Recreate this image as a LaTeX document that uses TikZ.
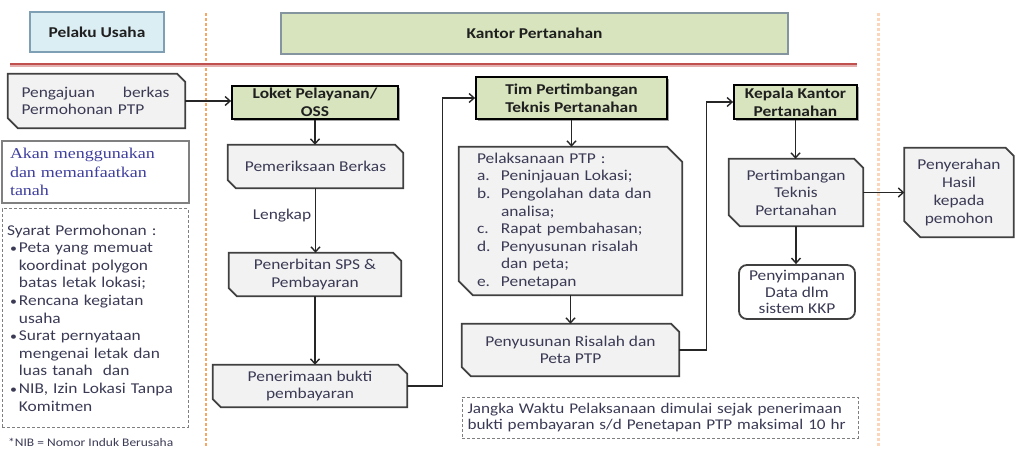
\documentclass[tikz,border=0pt]{standalone}
\usepackage{fontspec}
\setmainfont{Carlito}[FakeStretch=1.16]
\newfontfamily\akanfont{Liberation Serif}[FakeStretch=1.2]
\usetikzlibrary{arrows.meta,backgrounds,shadows}
\definecolor{greenc}{HTML}{D7E4BD}
\definecolor{bluec}{HTML}{DBEEF4}
\definecolor{bluebd}{HTML}{7F9FB5}
\definecolor{kantbd}{HTML}{8495A0}
\definecolor{snipfill}{HTML}{F2F2F2}
\definecolor{snipdraw}{HTML}{404040}
\definecolor{txtc}{HTML}{3A3A55}
\definecolor{akanc}{HTML}{3F3F9F}
\definecolor{redc}{HTML}{C0504D}
\definecolor{orL}{HTML}{F5A865}
\definecolor{orR}{HTML}{FCD6BA}
\definecolor{dashc}{HTML}{7F7F7F}
\newcommand\snipbox[3]{%
  \draw[snipsty] (#1.north west) -- ([xshift=-#2]#1.north east) -- ([yshift=-#2]#1.north east)
    -- (#1.south east) -- ([xshift=#3]#1.south west) -- ([yshift=#3]#1.south west) -- cycle;}
\newcommand\bul{\hspace*{3pt}\makebox[9pt][l]{\raisebox{0.5pt}{\fontsize{12}{12}\selectfont•}}}
\begin{document}
\begin{tikzpicture}[x=1pt,y=-1pt,
  base/.style={font=\fontsize{15}{17.6}\selectfont, text=txtc, align=center, inner sep=0pt},
  head/.style={base, font=\fontsize{15}{18}\selectfont\bfseries, text=black!88},
  greenbox/.style={head, fill=greenc, draw=black, line width=1.8pt,
     drop shadow={shadow xshift=2pt, shadow yshift=-2pt, fill=black!45, opacity=0.8}},
  snipsty/.style={fill=snipfill, draw=snipdraw, line width=1.7pt, line join=miter},
  arr/.style={draw=black!85, line width=1.4pt, -{Straight Barb[length=5pt,width=9pt,line width=1.4pt]}},
  dashbox/.style={draw=dashc, line width=1pt, dash pattern=on 3pt off 2pt}
]
\useasboundingbox (0,0) rectangle (1015,449);

% separators
\draw[orL, line width=2pt, dash pattern=on 3pt off 2pt] (206,13) -- (206,447);
\draw[orR, line width=3pt, dash pattern=on 3pt off 2pt] (878,13) -- (878,447);
\draw[redc!45, line width=2pt] (10,66) -- (857,66);
\draw[redc, line width=2.2pt] (10,64) -- (857,64);

% headers
\node[head, fill=bluec, draw=bluebd, line width=1.2pt, minimum width=134pt, minimum height=40pt] (pelaku) at (97,32) {Pelaku Usaha};
\node[head, fill=greenc, draw=kantbd, line width=1.2pt, minimum width=507pt, minimum height=41pt] (kantor) at (534.5,33.5) {Kantor Pertanahan};

% left column
\node[base, align=left, text width=150pt, inner xsep=13.5pt, minimum height=54pt] (peng) at (96.5,101)
  {\makebox[148pt][s]{Pengajuan\hfill berkas}\\Permohonan PTP};
\node[base, font=\akanfont\fontsize{15}{18.5}\selectfont, text=akanc, align=left, text width=171pt, inner xsep=8pt,
  minimum height=62pt, draw=black!50, line width=1.2pt, fill=white] (akan) at (95.5,172)
  {Akan menggunakan\\dan memanfaatkan\\tanah};
\node[base, dashbox, align=left, text width=176pt, inner xsep=5pt, minimum height=218pt] (syarat) at (95,318)
  {Syarat Permohonan :\\
   \bul Peta yang memuat\\
   \hspace*{12pt}koordinat polygon\\
   \hspace*{12pt}batas letak lokasi;\\
   \bul Rencana kegiatan\\
   \hspace*{12pt}usaha\\
   \bul Surat pernyataan\\
   \hspace*{12pt}mengenai letak dan\\
   \hspace*{12pt}luas tanah\ \ dan\\
   \bul NIB, Izin Lokasi Tanpa\\
   \hspace*{12pt}Komitmen};
\node[base, font=\fontsize{11.6}{12}\selectfont, anchor=west] (nib) at (8,442) {*NIB = Nomor Induk Berusaha};

% column 2
\node[greenbox, minimum width=166pt, minimum height=33pt] (loket) at (315,102.5) {Loket Pelayanan/\\OSS};
\node[base, minimum width=175pt, minimum height=43pt] (pem) at (315.5,166.5) {Pemeriksaan Berkas};
\node[base] (lengkap) at (282,216) {Lengkap};
\node[base, minimum width=172pt, minimum height=43pt] (pen) at (315,274.5) {Penerbitan SPS \&\\Pembayaran};
\node[base, minimum width=194pt, minimum height=42pt] (pnr) at (310,386) {Penerimaan bukti\\pembayaran};

% column 3
\node[greenbox, minimum width=191pt, minimum height=42pt] (tim) at (571.5,98) {Tim Pertimbangan\\Teknis Pertanahan};
\node[base, align=left, text width=187pt, inner xsep=18pt, minimum height=148pt] (pel) at (570.5,221)
  {Pelaksanaan PTP :\\
   \makebox[24pt][l]{a.}Peninjauan Lokasi;\\
   \makebox[24pt][l]{b.}Pengolahan data dan\\
   \hspace*{24pt}analisa;\\
   \makebox[24pt][l]{c.}Rapat pembahasan;\\
   \makebox[24pt][l]{d.}Penyusunan risalah\\
   \hspace*{24pt}dan peta;\\
   \makebox[24pt][l]{e.}Penetapan};
\node[base, minimum width=217pt, minimum height=52pt] (ris) at (570.5,350) {Penyusunan Risalah dan\\Peta PTP};
\node[base, dashbox, align=left, text width=385pt, inner xsep=5.5pt, minimum height=41pt,
  font=\fontsize{14.8}{15.5}\selectfont] (jangka) at (660,417.5)
  {\makebox[385pt][s]{Jangka Waktu Pelaksanaan dimulai sejak penerimaan}\\bukti pembayaran s/d Penetapan PTP maksimal 10 hr};

% column 4
\node[greenbox, minimum width=123pt, minimum height=34pt] (kep) at (795.5,102) {Kepala Kantor\\Pertanahan};
\node[base, minimum width=134pt, minimum height=67pt] (pert) at (796,192.5) {Pertimbangan\\Teknis\\Pertanahan};
\node[base, minimum width=116pt, minimum height=54pt, draw=snipdraw, line width=1.8pt, rounded corners=8pt,
  fill=white, font=\fontsize{15}{16.5}\selectfont] (simp) at (797,292) {Penyimpanan\\Data dlm\\sistem KKP};
\node[base, minimum width=109pt, minimum height=89pt, font=\fontsize{15}{18}\selectfont] (peny) at (959,192.5)
  {Penyerahan\\Hasil\\kepada\\pemohon};

% snipped shapes
\begin{scope}[on background layer]
  \snipbox{peng}{8pt}{10pt}
  \snipbox{pem}{8pt}{8pt}
  \snipbox{pen}{8pt}{8pt}
  \snipbox{pnr}{9pt}{8pt}
  \snipbox{pel}{15pt}{14pt}
  \snipbox{ris}{8pt}{9pt}
  \snipbox{pert}{9pt}{11pt}
  \snipbox{peny}{8pt}{16pt}
\end{scope}

% connectors
\draw[arr] (peng.east) -- (peng.east -| loket.west);
\draw[arr] (loket.south) -- (loket.south |- pem.north);
\draw[arr] (pem.south) -- (pem.south |- pen.north);
\draw[arr] (pen.south) -- (pen.south |- pnr.north);
\draw[arr] (pnr.east) -- ++(35,0) |- (tim.west);
\draw[arr] (tim.south) -- (tim.south |- pel.north);
\draw[arr] (pel.south) -- (pel.south |- ris.north);
\draw[arr] (ris.east) -- ++(27,0) |- (kep.west);
\draw[arr] (kep.south) -- (kep.south |- pert.north);
\draw[arr] (pert.south) -- (pert.south |- simp.north);
\draw[arr] (pert.east) -- (pert.east -| peny.west);
\end{tikzpicture}
\end{document}
